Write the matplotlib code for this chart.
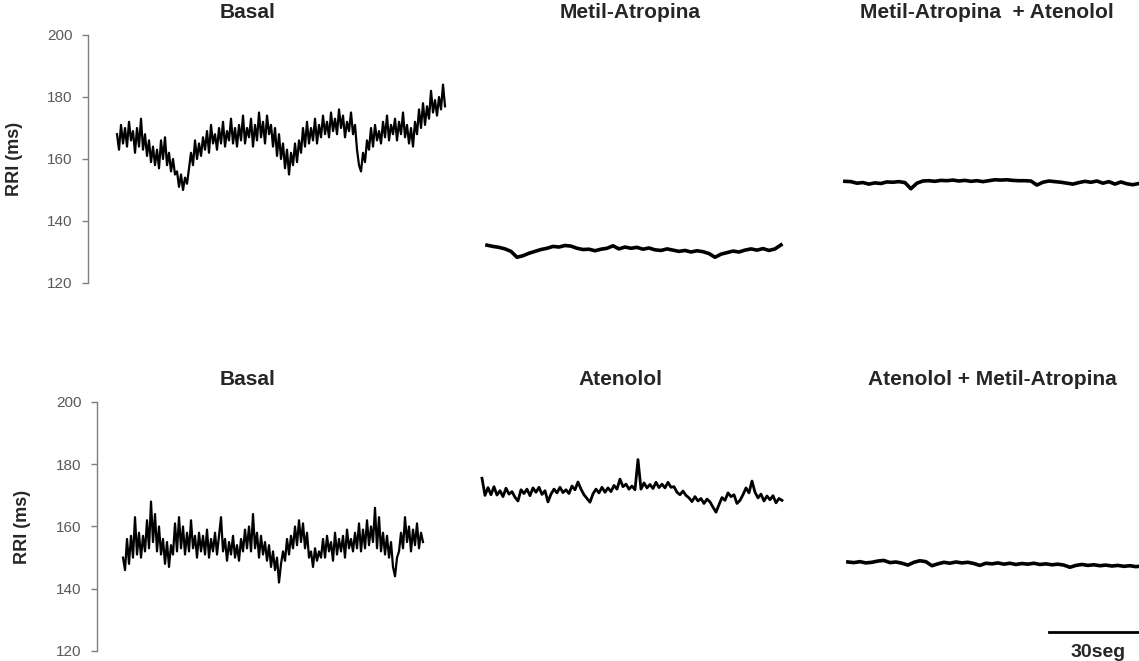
import matplotlib
matplotlib.use("Agg")
import matplotlib.pyplot as plt
import numpy as np

plt.rcParams["font.family"] = ["Liberation Sans", "DejaVu Sans"]

# RRI traces (ms). t0 = onset (s), dt = sample step (s)
top_titles = ["Basal", "Metil-Atropina", "Metil-Atropina  + Atenolol"]
bottom_titles = ["Basal", "Atenolol", "Atenolol + Metil-Atropina"]

basal_top = [
    168, 163, 171, 165, 170, 164, 172, 166, 169, 162,
    170, 164, 173, 163, 168, 161, 166, 159, 164, 158,
    163, 157, 166, 160, 167, 158, 162, 156, 160, 155,
    156, 151, 155, 150, 154, 152, 157, 162, 158, 166,
    160, 165, 161, 167, 163, 169, 162, 171, 165, 168,
    163, 170, 165, 172, 164, 169, 166, 173, 165, 170,
    164, 171, 166, 174, 165, 170, 167, 173, 164, 171,
    166, 175, 167, 172, 165, 174, 168, 171, 164, 170,
    161, 168, 160, 165, 157, 163, 155, 162, 158, 165,
    159, 166, 162, 170, 164, 172, 165, 170, 166, 173,
    165, 171, 167, 174, 168, 172, 167, 175, 169, 173,
    168, 176, 170, 174, 167, 172, 169, 175, 168, 171,
    163, 158, 156, 162, 159, 166, 163, 170, 164, 171,
    166, 169, 165, 172, 167, 174, 166, 171, 168, 173,
    166, 172, 168, 175, 167, 171, 165, 170, 164, 172,
    168, 176, 170, 178, 171, 177, 173, 182, 175, 179,
    174, 180, 176, 184, 177,
]
metil_top = [
    132.2, 131.8, 131.5, 131.0, 130.2, 128.3, 128.8, 129.6, 130.2, 130.8,
    131.2, 131.8, 131.6, 132.1, 131.9, 131.2, 130.8, 130.9, 130.4, 130.9,
    131.2, 132.0, 131.0, 131.6, 131.2, 131.5, 130.9, 131.3, 130.7, 130.5,
    131.0, 130.6, 130.2, 130.5, 130.0, 130.4, 130.1, 129.5, 128.3, 129.3,
    129.8, 130.3, 130.0, 130.6, 131.0, 130.6, 131.1, 130.5, 131.0, 132.3,
]
metil_aten_top = [
    152.8, 152.7, 152.2, 152.4, 151.9, 152.3, 152.1, 152.6, 152.5, 152.7,
    152.4, 150.4, 152.2, 152.9, 153.0, 152.8, 153.1, 153.0, 153.2, 152.9,
    153.1, 152.8, 153.0, 152.7, 153.0, 153.3, 153.2, 153.3, 153.1, 153.0,
    153.0, 152.9, 151.6, 152.5, 152.9, 152.7, 152.5, 152.2, 151.9, 152.4,
    152.8, 152.5, 152.9, 152.2, 152.7, 151.9, 152.6, 152.0, 151.7, 152.1,
]
basal_bottom = [
    150, 146, 156, 148, 157, 150, 163, 151, 158, 150,
    157, 152, 162, 153, 168, 155, 164, 152, 160, 151,
    156, 148, 155, 147, 154, 151, 161, 152, 163, 153,
    160, 151, 158, 152, 162, 153, 157, 150, 158, 152,
    157, 151, 159, 150, 156, 152, 158, 151, 157, 163,
    152, 156, 149, 155, 151, 157, 150, 154, 149, 156,
    152, 159, 153, 160, 152, 164, 153, 158, 150, 157,
    151, 155, 149, 154, 147, 152, 146, 150, 142, 148,
    152, 149, 156, 151, 157, 153, 160, 154, 162, 155,
    161, 153, 158, 150, 152, 147, 153, 149, 152, 150,
    156, 150, 157, 152, 155, 149, 158, 151, 156, 152,
    157, 150, 159, 153, 156, 152, 158, 153, 161, 152,
    159, 153, 162, 154, 160, 155, 166, 153, 163, 152,
    158, 151, 157, 150, 155, 147, 144, 150, 152, 158,
    153, 163, 155, 160, 152, 159, 154, 161, 153, 158,
    155,
]
aten_bottom = [
    175.5, 170.0, 172.5, 170.2, 172.8, 170.1, 171.5, 169.6, 172.3, 170.4,
    171.2, 169.4, 168.2, 171.8, 170.6, 172.0, 169.9, 172.4, 171.0, 172.6,
    170.3, 171.5, 167.9, 170.4, 172.0, 170.8, 172.6, 170.9, 171.8, 170.6,
    173.0, 171.8, 174.3, 172.0, 170.2, 169.0, 167.8, 170.5, 172.0, 170.8,
    172.6, 171.0, 172.4, 171.2, 173.2, 172.0, 175.2, 172.8, 173.6, 172.0,
    173.0, 171.8, 181.5, 172.0, 174.0, 172.4, 173.5, 172.2, 174.2, 172.5,
    173.6, 172.4, 174.2, 172.6, 172.8, 171.0, 170.2, 171.4, 170.0, 169.2,
    168.0, 169.6, 168.2, 169.0, 167.4, 168.8, 167.9, 166.2, 164.6, 167.0,
    169.3, 168.4, 170.8, 169.6, 170.2, 167.4, 168.4, 170.2, 172.4, 170.8,
    174.6, 171.0, 169.2, 170.4, 168.2, 169.8, 168.6, 169.9, 167.6, 169.0,
    168.4,
]
aten_metil_bottom = [
    148.6, 148.4, 148.7, 148.3, 148.5, 148.9, 149.1, 148.4, 148.6, 148.2,
    147.6, 148.5, 149.0, 148.7, 147.4, 148.0, 148.5, 148.2, 148.6, 148.3,
    148.5, 148.1, 147.5, 148.2, 148.0, 148.3, 147.9, 148.2, 147.8, 148.1,
    147.9, 148.2, 147.8, 148.0, 147.7, 147.9, 147.6, 146.9, 147.5, 147.8,
    147.5, 147.7, 147.4, 147.6, 147.3, 147.5, 147.2, 147.4, 147.1, 147.3,
]

top_series = [(basal_top, 9.67, 2 / 3), (metil_top, 133.0, 2.0), (metil_aten_top, 252.3, 2.0)]
bottom_series = [(basal_bottom, 8.67, 2 / 3), (aten_bottom, 128.33, 1.0), (aten_metil_bottom, 250.3, 2.0)]
widths = [1.6, 2.6, 2.6]
bottom_widths = [1.6, 2.0, 2.6]

W, H = 1139, 661
fig = plt.figure(figsize=(W / 100, H / 100), dpi=100)

GRAY = "#7f7f7f"


def make_row(left_px, top_px, bottom_px, series, lws, titles, title_x, title_y, label_px):
    ax = fig.add_axes([left_px / W, 1 - bottom_px / H, (W - left_px) / W, (bottom_px - top_px) / H])
    for (vals, t0, dt), lw in zip(series, lws):
        t = t0 + dt * np.arange(len(vals))
        ax.plot(t, vals, color="black", lw=lw, clip_on=False)
    ax.set_xlim(0, (W - left_px) / 3.0)
    ax.set_ylim(120, 200)
    ax.set_yticks([120, 140, 160, 180, 200])
    for side in ["top", "right", "bottom"]:
        ax.spines[side].set_visible(False)
    ax.spines["left"].set_color(GRAY)
    ax.spines["left"].set_linewidth(1.0)
    ax.set_xticks([])
    ax.tick_params(axis="y", direction="out", length=4, width=1, color=GRAY,
                   labelcolor="#595959", labelsize=11, pad=7)
    ax.set_ylabel("RRI (ms)", fontsize=13, fontweight="bold", color="#262626")
    ax.yaxis.set_label_coords(-(left_px - label_px) / (W - left_px), 0.5)
    for name, x in zip(titles, title_x):
        fig.text(x / W, 1 - title_y / H, name, ha="center", va="center",
                 fontsize=15, fontweight="bold", color="#262626")
    return ax


make_row(88, 35, 283, top_series, widths, top_titles, [248, 630, 987], 12, 23)
ax2 = make_row(97, 402, 651, bottom_series, bottom_widths, bottom_titles, [248, 620, 992], 380, 31)

# 30 s scale bar
ax2.plot([317.3, 347.3], [126.1, 126.1], color="black", lw=2, clip_on=False)
ax2.text(333.7, 119.6, "30seg", ha="center", va="center", fontsize=14,
         fontweight="bold", color="#262626", clip_on=False)

fig.savefig("out.png", dpi=100)
